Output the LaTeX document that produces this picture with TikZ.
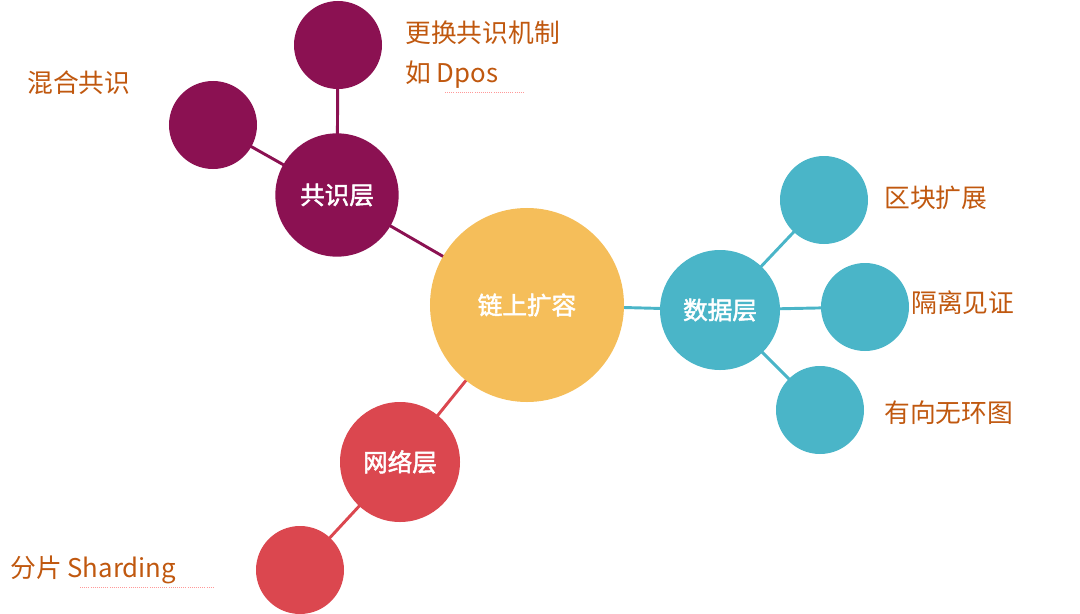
\documentclass[tikz,border=0pt]{standalone}
\usepackage{fontspec}
\newfontfamily\cjk[AutoFakeBold=2]{Noto Sans CJK SC}
\definecolor{cmain}{HTML}{F5BE5A}
\definecolor{cpur}{HTML}{8B1152}
\definecolor{cblue}{HTML}{4AB5C8}
\definecolor{cred}{HTML}{DB474F}
\definecolor{clab}{HTML}{C0580F}
\tikzset{
 circ/.style={circle,minimum size=#1,inner sep=0pt,text=white,font=\cjk\bfseries\fontsize{21}{21}\selectfont},
 lab/.style={text=clab,font=\cjk\fontsize{22}{26}\selectfont,inner sep=0pt},
}
\begin{document}
\begin{tikzpicture}[x=0.03cm,y=-0.03cm]
\useasboundingbox (0,0) rectangle (1080,614);
% connectors first
\coordinate (A) at (527,305);
\coordinate (B) at (337,195);
\coordinate (C) at (720,310);
\coordinate (D) at (400,462);
\draw[cpur,line width=2.5pt] (A)--(B) (B)--(213,125) (B)--(338,45);
\draw[cblue,line width=2.5pt] (A)--(C) (C)--(824,200) (C)--(865,307) (C)--(820,410);
\draw[cred,line width=2.5pt] (A)--(D) (D)--(300,570);
\node[circ=5.82cm,fill=cmain] (main) at (A) {链上扩容};
\node[circ=3.7cm,fill=cpur] (gs) at (B) {共识层};
\node[circ=2.64cm,fill=cpur] (g1) at (213,125) {};
\node[circ=2.64cm,fill=cpur] (g2) at (338,45) {};
\node[circ=3.6cm,fill=cblue] (sj) at (C) {数据层};
\node[circ=2.64cm,fill=cblue] (s1) at (824,200) {};
\node[circ=2.64cm,fill=cblue] (s2) at (865,307) {};
\node[circ=2.64cm,fill=cblue] (s3) at (820,410) {};
\node[circ=3.6cm,fill=cred] (wl) at (D) {网络层};
\node[circ=2.64cm,fill=cred] (w1) at (300,570) {};
\node[lab,anchor=west] (t1) at (405,33) {更换共识机制};
\node[lab,anchor=west] (t2) at (405,75) {如 Dpos};
\node[lab,anchor=west] (t3) at (27,83) {混合共识};
\node[lab,anchor=west] (t4) at (884,198) {区块扩展};
\node[lab,anchor=west] (t5) at (911,303) {隔离见证};
\node[lab,anchor=west] (t6) at (884,413) {有向无环图};
\node[lab,anchor=west] (t7) at (10,570) {分片 Sharding};
\draw[red!40,densely dotted,line width=0.8pt] (445,92)--(524,92);
\draw[red!40,densely dotted,line width=0.8pt] (80,587)--(214,587);
\end{tikzpicture}
\end{document}
